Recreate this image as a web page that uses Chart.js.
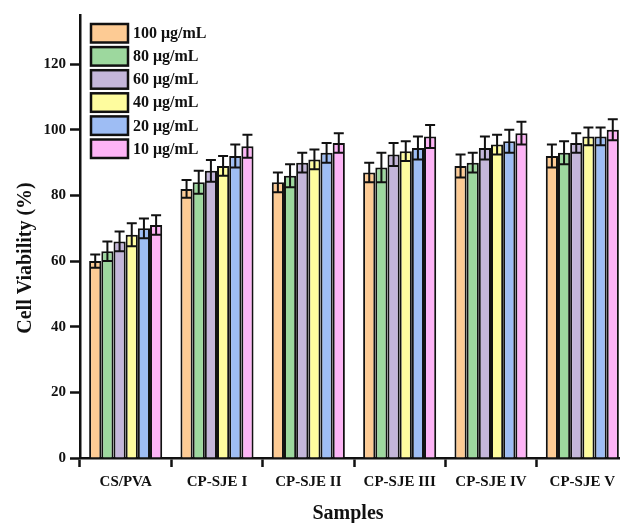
<!DOCTYPE html>
<html>
<head>
<meta charset="utf-8">
<script src="https://cdn.jsdelivr.net/npm/chart.js@4.4.1/dist/chart.umd.min.js"></script>
<style>
  html, body { margin:0; padding:0; background:#fff; overflow:hidden; }
  #wrap { width:640px; height:523px; }
</style>
</head>
<body>
<div id="wrap"><canvas id="chart-viab" width="640" height="523"></canvas></div>
<script>
/* ── DATA ──────────────────────────────── */
const SAMPLES = ['CS/PVA','CP-SJE I','CP-SJE II','CP-SJE III','CP-SJE IV','CP-SJE V'];
const CONCS   = ['100 μg/mL','80 μg/mL','60 μg/mL','40 μg/mL','20 μg/mL','10 μg/mL'];

const V100 = [60, 82,   84, 87,   89,   92];
const V80  = [63, 84,   86, 88.5, 90,   93];
const V60  = [66, 87.5, 90, 92.5, 94.5, 96];
const V40  = [68, 89,   91, 93.5, 95.5, 98];
const V20  = [70, 92,   93, 94.5, 96.5, 98];
const V10  = [71, 95,   96, 98,   99,  100];

const E100 = [2,   2.7, 3,   3,   3.5, 3.5];
const E80  = [3,   3.5, 3.5, 4.5, 3,   3.5];
const E60  = [3,   3.3, 3,   3.5, 3.5, 3];
const E40  = [3.5, 3,   3,   3,   3,   2.7];
const E20  = [3,   3.5, 3,   3.5, 3.5, 2.7];
const E10  = [3,   3.5, 3,   3.5, 3.5, 3.2];

const Y_TICKS = [0, 20, 40, 60, 80, 100, 120];

const COLORS = ['#FDCB94','#9DD89E','#C4B6DA','#FEFC9E','#9EBDF4','#FDB4F6'];
const SERIES = [V100, V80, V60, V40, V20, V10];
const ERRORS = [E100, E80, E60, E40, E20, E10];

const FONT = "'Liberation Serif', 'Times New Roman', serif";

/* ── PLUGINS ───────────────────────────── */
// error bars (whole symmetric bar + caps, drawn over the bars)
const errorBars = {
  id: 'errorBars',
  afterDatasetsDraw(chart) {
    const ctx = chart.ctx;
    const y = chart.scales.y;
    ctx.save();
    ctx.strokeStyle = '#111';
    ctx.lineWidth = 2;
    chart.data.datasets.forEach((ds, i) => {
      const meta = chart.getDatasetMeta(i);
      meta.data.forEach((bar, j) => {
        const v = ds.data[j], e = ds.errors[j];
        const hi = y.getPixelForValue(v + e);
        const lo = y.getPixelForValue(v - e);
        const cap = 5;
        ctx.beginPath();
        ctx.moveTo(bar.x, hi); ctx.lineTo(bar.x, lo);
        ctx.moveTo(bar.x - cap, hi); ctx.lineTo(bar.x + cap, hi);
        ctx.moveTo(bar.x - cap, lo); ctx.lineTo(bar.x + cap, lo);
        ctx.stroke();
      });
    });
    ctx.restore();
  }
};

// legend box in the upper left + axis titles
const decor = {
  id: 'decor',
  afterDraw(chart) {
    const ctx = chart.ctx;
    ctx.save();
    ctx.fillStyle = '#111';
    ctx.textBaseline = 'middle';

    chart.data.datasets.forEach((ds, i) => {
      const top = 24 + i * 23.1;
      ctx.fillStyle = ds.backgroundColor;
      ctx.fillRect(91, top, 37, 18.5);
      ctx.strokeStyle = '#111';
      ctx.lineWidth = 2.5;
      ctx.strokeRect(91, top, 37, 18.5);
      ctx.fillStyle = '#111';
      ctx.font = `bold 16px ${FONT}`;
      ctx.textAlign = 'left';
      ctx.fillText(ds.label, 133, top + 10);
    });

    ctx.font = `bold 20px ${FONT}`;
    ctx.textAlign = 'center';
    ctx.fillText('Samples', 348, 514);

    ctx.translate(26, 258);
    ctx.rotate(-Math.PI / 2);
    ctx.fillText('Cell Viability (%)', 0, 0);
    ctx.restore();
  }
};

/* ── CHART ─────────────────────────────── */
new Chart(document.getElementById('chart-viab'), {
  type: 'bar',
  data: {
    labels: SAMPLES,
    datasets: SERIES.map((vals, i) => ({
      label: CONCS[i],
      data: vals,
      errors: ERRORS[i],
      backgroundColor: COLORS[i],
      borderColor: '#111',
      borderWidth: 2,
      barPercentage: 1.0,
      categoryPercentage: 0.8,
    }))
  },
  options: {
    responsive: false,
    devicePixelRatio: 1,
    animation: false,
    layout: { padding: { top: 15, right: 12, left: 0, bottom: 0 } },
    plugins: { legend: { display: false }, tooltip: { enabled: false } },
    scales: {
      x: {
        offset: true,
        grid: { drawOnChartArea: false, drawTicks: true, tickLength: 9, tickWidth: 2.5, tickColor: '#111' },
        border: { display: true, color: '#111', width: 2.5 },
        ticks: { color: '#111', font: { family: FONT, size: 15, weight: 'bold' }, padding: 6, maxRotation: 0, autoSkip: false },
        afterFit(s) { s.height = 65; }
      },
      y: {
        min: 0, max: 135,
        grid: { drawOnChartArea: false, drawTicks: true, tickLength: 10, tickWidth: 2.5, tickColor: '#111' },
        border: { display: true, color: '#111', width: 2.5 },
        ticks: { color: '#111', font: { family: FONT, size: 15, weight: 'bold' }, padding: 4 },
        afterBuildTicks(s) { s.ticks = Y_TICKS.map(v => ({ value: v })); },
        afterFit(s) { s.width = 80; }
      }
    }
  },
  plugins: [errorBars, decor]
});
</script>
</body>
</html>
